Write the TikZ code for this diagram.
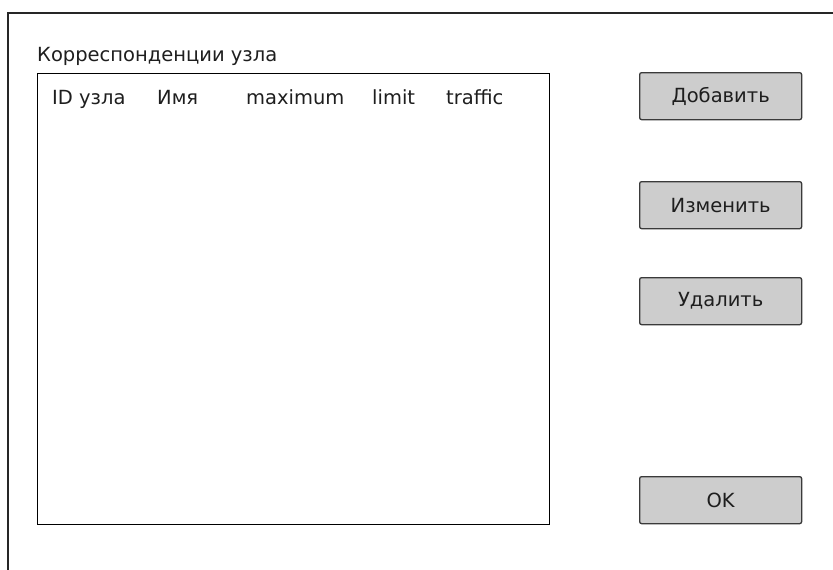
\documentclass[tikz,border=0pt]{standalone}
\usepackage{fontspec}
\setmainfont{DejaVu Sans}
\definecolor{btnfill}{HTML}{CDCDCD}
\definecolor{btnline}{HTML}{3A3A3A}
\definecolor{txt}{HTML}{1E1E1E}
\tikzset{
  uifont/.style={font=\fontsize{19.5}{23}\selectfont, text=txt},
  btn/.style={draw=btnline, line width=1.3pt, fill=btnfill, rounded corners=2pt,
    minimum width=162pt, minimum height=47pt, inner sep=0pt, anchor=north west, uifont},
  hdr/.style={anchor=base west, inner sep=0pt, uifont},
}
\begin{document}
\begin{tikzpicture}[x=1pt, y=-1pt]
  \useasboundingbox (0,0) rectangle (833,570);
  \clip (0,0) rectangle (833,570);
  % dialog frame, running past the right and bottom edges
  \draw[line width=1.3pt, draw=black!85] (8,13) rectangle (860,600);
  % caption
  \node[hdr] (cap) at (37,61) {Корреспонденции узла};
  % list box
  \node[draw=black, line width=1.2pt, fill=white, anchor=north west,
        minimum width=512pt, minimum height=451pt, inner sep=0pt] (list) at (37,73) {};
  % column headers
  \node[hdr] (c1) at (52,104) {ID узла};
  \node[hdr] (c2) at (157,104) {Имя};
  \node[hdr] (c3) at (246,104) {maximum};
  \node[hdr] (c4) at (372,104) {limit};
  \node[hdr] (c5) at (446,104) {traffic};
  % buttons
  \node[btn] (add) at (639,72) {Добавить};
  \node[btn] (edit) at (639,181) {Изменить};
  \node[btn] (del) at (639,277) {Удалить};
  \node[btn] (ok) at (639,476) {OK};
\end{tikzpicture}
\end{document}
